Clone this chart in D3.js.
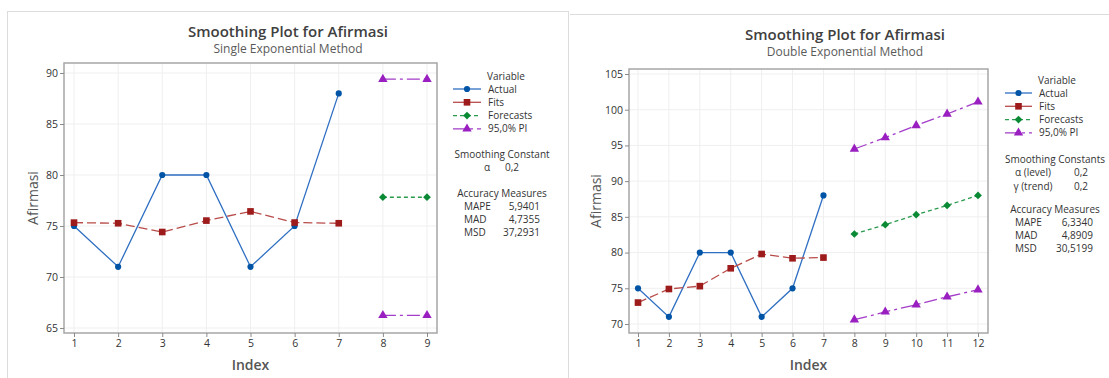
<!DOCTYPE html>
<html>
<head>
<meta charset="utf-8">
<script src="https://cdn.jsdelivr.net/npm/d3@7"></script>
<style>
  html, body { margin: 0; padding: 0; background: #fff; }
  svg { display: block; font-family: "Open Sans", "Noto Sans", sans-serif; }
</style>
</head>
<body>
<svg id="chart" width="1109" height="378"></svg>
<script>
// ---------- data ----------
const actualIndex = [1, 2, 3, 4, 5, 6, 7];
const actual = [75, 71, 80, 80, 71, 75, 88];

// Single exponential
const singleFits = [75.33, 75.27, 74.41, 75.53, 76.43, 75.34, 75.27];
const singleForecastIndex = [8, 9];
const singleForecast = [77.82, 77.82];
const singleUpper = [89.39, 89.39];
const singleLower = [66.24, 66.24];
const singleXTicks = [1, 2, 3, 4, 5, 6, 7, 8, 9];
const singleYTicks = [65, 70, 75, 80, 85, 90];
const singleConstLabels = ["α"];
const singleConstValues = ["0,2"];
const singleAccLabels = ["MAPE", "MAD", "MSD"];
const singleAccValues = ["5,9401", "4,7355", "37,2931"];

// Double exponential
const doubleFits = [73.0, 74.9, 75.3, 77.8, 79.8, 79.2, 79.3];
const doubleForecastIndex = [8, 9, 10, 11, 12];
const doubleForecast = [82.6, 83.9, 85.3, 86.6, 88.0];
const doubleUpper = [94.5, 96.1, 97.8, 99.4, 101.1];
const doubleLower = [70.6, 71.7, 72.7, 73.8, 74.8];
const doubleXTicks = [1, 2, 3, 4, 5, 6, 7, 8, 9, 10, 11, 12];
const doubleYTicks = [70, 75, 80, 85, 90, 95, 100, 105];
const doubleConstLabels = ["α (level)", "γ (trend)"];
const doubleConstValues = ["0,2", "0,2"];
const doubleAccLabels = ["MAPE", "MAD", "MSD"];
const doubleAccValues = ["6,3340", "4,8909", "30,5199"];

const legendNames = ["Actual", "Fits", "Forecasts", "95,0% PI"];

// ---------- styles ----------
const C = {
  actualLine: "#2f6fc2", actualMark: "#0054a6",
  fitsLine: "#b84c4a", fitsMark: "#9e1b1b",
  fcLine: "#2a9a4e", fcMark: "#0a8a34",
  piLine: "#a33cc8", piMark: "#9a1fc0"
};
const styles = [
  { line: C.actualLine, mark: C.actualMark, dash: null, sym: d3.symbolCircle, size: 30, rot: 0, legDash: null },
  { line: C.fitsLine, mark: C.fitsMark, dash: "9,4", sym: d3.symbolSquare, size: 44, rot: 0, legDash: null },
  { line: C.fcLine, mark: C.fcMark, dash: "4,3", sym: d3.symbolSquare, size: 30, rot: 45, legDash: "4,3" },
  { line: C.piLine, mark: C.piMark, dash: "13,4,3,4", sym: d3.symbolTriangle, size: 38, rot: 0, legDash: "13,4,3,4" }
];

const svg = d3.select("#chart");
svg.append("rect").attr("width", 1109).attr("height", 378).attr("fill", "#fff");

// panel borders
svg.append("rect").attr("x", 7.5).attr("y", 11.5).attr("width", 561).attr("height", 380)
  .attr("fill", "none").attr("stroke", "#dcdcdc").attr("stroke-width", 1);
svg.append("line").attr("x1", 570).attr("x2", 1109).attr("y1", 14.5).attr("y2", 14.5)
  .attr("stroke", "#dcdcdc").attr("stroke-width", 1);

function drawPanel(cfg) {
  const g = svg.append("g");
  const x = d3.scaleLinear().domain(cfg.xDomain).range(cfg.xRange);
  const y = d3.scaleLinear().domain(cfg.yDomain).range(cfg.yRange);
  const f = cfg.frame;

  // titles
  g.append("text").attr("x", cfg.titleX).attr("y", cfg.titleY).attr("text-anchor", "middle")
    .attr("font-size", 15).attr("font-weight", 600).attr("fill", "#404040")
    .text("Smoothing Plot for Afirmasi");
  g.append("text").attr("x", cfg.titleX).attr("y", cfg.titleY + 16).attr("text-anchor", "middle")
    .attr("font-size", 12).attr("fill", "#5a5a5a").text(cfg.subtitle);

  // gridlines
  g.selectAll(".gx").data(cfg.xTicks).join("line")
    .attr("x1", d => x(d)).attr("x2", d => x(d)).attr("y1", f.y0).attr("y2", f.y1)
    .attr("stroke", "#efefef").attr("stroke-width", 1);
  g.selectAll(".gy").data(cfg.yTicks).join("line")
    .attr("y1", d => y(d)).attr("y2", d => y(d)).attr("x1", f.x0).attr("x2", f.x1)
    .attr("stroke", "#efefef").attr("stroke-width", 1);

  // frame
  g.append("rect").attr("x", f.x0).attr("y", f.y0).attr("width", f.x1 - f.x0).attr("height", f.y1 - f.y0)
    .attr("fill", "none").attr("stroke", "#a6a6a6").attr("stroke-width", 1.5);

  // axes
  const xa = g.append("g").attr("transform", `translate(0,${f.y1})`)
    .call(d3.axisBottom(x).tickValues(cfg.xTicks).tickSize(4).tickPadding(3).tickFormat(d3.format("d")));
  const ya = g.append("g").attr("transform", `translate(${f.x0},0)`)
    .call(d3.axisLeft(y).tickValues(cfg.yTicks).tickSize(4).tickPadding(2).tickFormat(d3.format("d")));
  [xa, ya].forEach(a => {
    a.select(".domain").remove();
    a.selectAll(".tick line").attr("stroke", "#8a8a8a");
    a.selectAll(".tick text").attr("fill", "#333").attr("font-size", 10.5)
      .attr("font-family", '"Open Sans", "Noto Sans", sans-serif');
  });

  // axis titles
  g.append("text").attr("x", (f.x0 + f.x1) / 2).attr("y", 370).attr("text-anchor", "middle")
    .attr("font-size", 14).attr("font-weight", 600).attr("fill", "#555").text("Index");
  g.append("text").attr("transform", `translate(${cfg.yTitleX},${(f.y0 + f.y1) / 2}) rotate(-90)`)
    .attr("text-anchor", "middle").attr("font-size", 14).attr("fill", "#555").text("Afirmasi");

  // series
  const series = [
    { xs: actualIndex, ys: actual, st: styles[0] },
    { xs: actualIndex, ys: cfg.fits, st: styles[1] },
    { xs: cfg.fIndex, ys: cfg.forecast, st: styles[2] },
    { xs: cfg.fIndex, ys: cfg.upper, st: styles[3] },
    { xs: cfg.fIndex, ys: cfg.lower, st: styles[3] }
  ];
  const line = d3.line().x(d => x(d[0])).y(d => y(d[1]));
  series.forEach(s => {
    const pts = s.xs.map((xv, i) => [xv, s.ys[i]]);
    g.append("path").attr("d", line(pts)).attr("fill", "none")
      .attr("stroke", s.st.line).attr("stroke-width", 1.3)
      .attr("stroke-dasharray", s.st.dash);
    g.selectAll(null).data(pts).join("path")
      .attr("transform", d => `translate(${x(d[0])},${y(d[1])}) rotate(${s.st.rot})`)
      .attr("d", d3.symbol().type(s.st.sym).size(s.st.size)())
      .attr("fill", s.st.mark);
  });

  // legend
  const L = cfg.legend;
  g.append("text").attr("x", L.headX).attr("y", L.y0 - 13 + 3.5).attr("text-anchor", "middle")
    .attr("font-size", 10).attr("fill", "#333").text("Variable");
  legendNames.forEach((name, i) => {
    const yy = L.y0 + i * 13.3;
    const st = styles[i];
    g.append("line").attr("x1", L.lx0).attr("x2", L.lx1).attr("y1", yy).attr("y2", yy)
      .attr("stroke", st.line).attr("stroke-width", 1.3).attr("stroke-dasharray", st.legDash);
    g.append("path").attr("transform", `translate(${(L.lx0 + L.lx1) / 2},${yy}) rotate(${st.rot})`)
      .attr("d", d3.symbol().type(st.sym).size(st.size)()).attr("fill", st.mark);
    g.append("text").attr("x", L.tx).attr("y", yy + 3.5).attr("font-size", 10).attr("fill", "#333").text(name);
  });

  // smoothing constants
  g.append("text").attr("x", L.headX2).attr("y", L.scY + 3.5).attr("text-anchor", "middle")
    .attr("font-size", 10).attr("fill", "#333").text(cfg.constTitle);
  cfg.constLabels.forEach((lab, i) => {
    const yy = L.scY + 13.5 * (i + 1) + 3.5;
    g.append("text").attr("x", L.cLabX).attr("y", yy).attr("text-anchor", "middle").attr("font-size", 10).attr("fill", "#333").text(lab);
    g.append("text").attr("x", L.cValX).attr("y", yy).attr("text-anchor", "middle").attr("font-size", 10).attr("fill", "#333").text(cfg.constValues[i]);
  });

  // accuracy measures
  g.append("text").attr("x", L.headX2).attr("y", L.amY + 3.5).attr("text-anchor", "middle")
    .attr("font-size", 10).attr("fill", "#333").text("Accuracy Measures");
  cfg.accLabels.forEach((lab, i) => {
    const yy = L.amY + 13.3 * (i + 1) + 3.5;
    g.append("text").attr("x", L.aLabX).attr("y", yy).attr("font-size", 10).attr("fill", "#333").text(lab);
    g.append("text").attr("x", L.aValX).attr("y", yy).attr("text-anchor", "end").attr("font-size", 10).attr("fill", "#333").text(cfg.accValues[i]);
  });
}

drawPanel({
  xDomain: [1, 9], xRange: [74, 427],
  yDomain: [65, 90], yRange: [328, 73],
  frame: { x0: 64, x1: 437, y0: 63, y1: 333 },
  xTicks: singleXTicks, yTicks: singleYTicks,
  titleX: 288, titleY: 37, subtitle: "Single Exponential Method",
  yTitleX: 38,
  fits: singleFits, fIndex: singleForecastIndex, forecast: singleForecast, upper: singleUpper, lower: singleLower,
  constTitle: "Smoothing Constant", constLabels: singleConstLabels, constValues: singleConstValues,
  accLabels: singleAccLabels, accValues: singleAccValues,
  legend: { headX: 506, y0: 89, lx0: 453, lx1: 481, tx: 488, headX2: 502, scY: 154,
            cLabX: 487, cValX: 512, amY: 193, aLabX: 464, aValX: 540 }
});

drawPanel({
  xDomain: [1, 12], xRange: [638, 978],
  yDomain: [70, 105], yRange: [324, 74],
  frame: { x0: 629, x1: 988, y0: 69, y1: 333 },
  xTicks: doubleXTicks, yTicks: doubleYTicks,
  titleX: 845, titleY: 40, subtitle: "Double Exponential Method",
  yTitleX: 601,
  fits: doubleFits, fIndex: doubleForecastIndex, forecast: doubleForecast, upper: doubleUpper, lower: doubleLower,
  constTitle: "Smoothing Constants", constLabels: doubleConstLabels, constValues: doubleConstValues,
  accLabels: doubleAccLabels, accValues: doubleAccValues,
  legend: { headX: 1057, y0: 93, lx0: 1005, lx1: 1032, tx: 1039, headX2: 1055, scY: 159,
            cLabX: 1033, cValX: 1081, amY: 209, aLabX: 1015, aValX: 1093 }
});
</script>
</body>
</html>
